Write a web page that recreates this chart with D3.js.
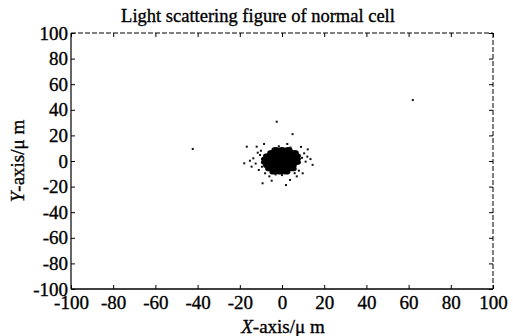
<!DOCTYPE html>
<html>
<head>
<meta charset="utf-8">
<script src="https://cdn.jsdelivr.net/npm/d3@7"></script>
<style>
  body { margin: 0; background: #fff; }
  svg { display: block; font-family: "Liberation Serif", "Times New Roman", serif; }
  svg text { stroke: #000; stroke-width: 0.35px; }
</style>
</head>
<body>
<div id="chart"></div>
<script>
// tick values on both axes
const xTicks = [-100, -80, -60, -40, -20, 0, 20, 40, 60, 80, 100];
const yTicks = [-100, -80, -60, -40, -20, 0, 20, 40, 60, 80, 100];

// dense core of the scattering spot (x, y in µm)
const coreX = [-3, 0, 3, -5, -2, 1, 4, 6, -7, -4, -1, 2, 5, 7, -8, -5, -2, 1, 4, 7,
               -8, -5, -2, 1, 4, 7, -7, -4, -1, 2, 5, -6, -3, 0, 3, 5, -4, -1, 2];
const coreY = [9, 9, 9, 6.5, 6.5, 6.5, 6.5, 6.5, 4, 4, 4, 4, 4, 4, 1.5, 1.5, 1.5, 1.5, 1.5, 1.5,
               -1, -1, -1, -1, -1, -1, -3.5, -3.5, -3.5, -3.5, -3.5, -6, -6, -6, -6, -6, -8.5, -8.5, -8.5];

// sparse scattered points around the spot
const dotX = [-2.5, 5, -42.3, -16.7, -12, -8.5, 2.5, 12.2, -17.9, -15.2, -14.4, 11.2, 12, 9.8,
              -9.2, -4.9, 1.9, 3.8, -8, -10.4, -13.6, 62, -11, -10, 9, 10.5, 7, -6, 0, 4,
              -12.5, 13.5, -3, 8, -9.5, 6, -1.5, 14.5, -11.5, 9.5];
const dotY = [30.7, 21, 9.4, 11.2, 11.2, 13.3, 13.3, 9.1, -1.8, 0.2, -4.4, -0.5, 3.4, -9.6,
              -17.4, -15.4, -18.8, -14.8, -9.6, 4.7, 2.1, 47.6, -7, 8, 11, 6, -12, -12, -11, 10.5,
              -2, 1.5, -10.5, -7.5, -4.5, -9.5, 11.5, -3, 6.5, 2.5];

const W = 513, H = 336;
const m = { top: 33, right: 20, bottom: 47, left: 71 };
const pw = W - m.left - m.right;
const ph = H - m.top - m.bottom;
const serif = '"Liberation Serif", "Times New Roman", serif';

const svg = d3.select('#chart').append('svg')
  .attr('width', W).attr('height', H);

const g = svg.append('g').attr('transform', `translate(${m.left},${m.top})`);

const x = d3.scaleLinear().domain([-100, 100]).range([0, pw]);
const y = d3.scaleLinear().domain([-100, 100]).range([ph, 0]);

// points
const core = coreX.map((v, i) => ({ x: v, y: coreY[i] }));
const dots = dotX.map((v, i) => ({ x: v, y: dotY[i] }));

g.selectAll('.core').data(core).enter().append('ellipse')
  .attr('cx', d => x(d.x)).attr('cy', d => y(d.y))
  .attr('rx', 4.2).attr('ry', 2.6)
  .attr('fill', '#000');

g.selectAll('.dot').data(dots).enter().append('rect')
  .attr('x', d => x(d.x) - 1).attr('y', d => y(d.y) - 1)
  .attr('width', 2).attr('height', 2)
  .attr('fill', '#111');

// axes with inward ticks, plain hyphen for negatives
const fmt = d => String(d);
const tickStyle = sel => {
  sel.attr('font-family', serif);
  sel.selectAll('.domain').remove();
  sel.selectAll('line').attr('stroke', '#000').attr('stroke-width', 1);
  sel.selectAll('text')
    .style('font-family', serif)
    .style('font-size', '19px')
    .attr('fill', '#000');
};

g.append('g').attr('transform', `translate(0,${ph})`)
  .call(d3.axisBottom(x).tickValues(xTicks).tickFormat(fmt).tickSize(-4).tickPadding(8))
  .call(tickStyle)
  .call(s => s.selectAll('text').attr('dy', '0.62em'));

g.append('g')
  .call(d3.axisTop(x).tickValues(xTicks).tickSize(-4).tickFormat(''))
  .call(tickStyle);

g.append('g')
  .call(d3.axisLeft(y).tickValues(yTicks).tickFormat(fmt).tickSize(-4).tickPadding(3))
  .call(tickStyle);

g.append('g').attr('transform', `translate(${pw},0)`)
  .call(d3.axisRight(y).tickValues(yTicks).tickSize(-4).tickFormat(''))
  .call(tickStyle);

// frame: solid left/bottom, dashed top/right (as in the scan)
g.append('line').attr('x1', 0).attr('y1', 0).attr('x2', 0).attr('y2', ph)
  .attr('stroke', '#000').attr('stroke-width', 1.2);
g.append('line').attr('x1', 0).attr('y1', ph).attr('x2', pw).attr('y2', ph)
  .attr('stroke', '#000').attr('stroke-width', 1.4);
g.append('line').attr('x1', 0).attr('y1', 0).attr('x2', pw).attr('y2', 0)
  .attr('stroke', '#000').attr('stroke-width', 1).attr('stroke-dasharray', '5,2');
g.append('line').attr('x1', pw).attr('y1', 0).attr('x2', pw).attr('y2', ph)
  .attr('stroke', '#000').attr('stroke-width', 1).attr('stroke-dasharray', '5,2');

// title and axis labels
svg.append('text')
  .attr('x', 258).attr('y', 22)
  .attr('text-anchor', 'middle')
  .style('font-size', '18.5px')
  .text('Light scattering figure of normal cell');

const xl = svg.append('text')
  .attr('x', 283).attr('y', 333)
  .attr('text-anchor', 'middle')
  .style('font-size', '19px');
xl.append('tspan').style('font-style', 'italic').text('X');
xl.append('tspan').text('-axis/\u03bc m');

const yl = svg.append('text')
  .attr('transform', 'translate(24,161) rotate(-90)')
  .attr('text-anchor', 'middle')
  .style('font-size', '19px');
yl.append('tspan').style('font-style', 'italic').text('Y');
yl.append('tspan').text('-axis/\u03bc m');
</script>
</body>
</html>
